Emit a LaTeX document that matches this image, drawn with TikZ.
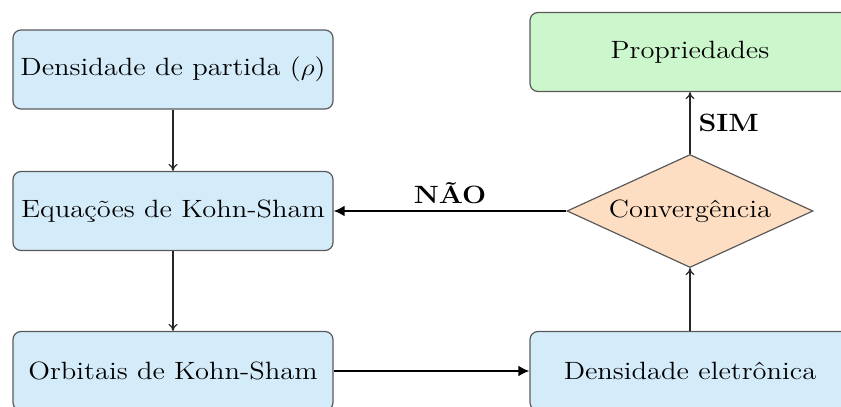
\documentclass[tikz,border=0pt]{standalone}
\usepackage{graphicx}
\usetikzlibrary{shapes.geometric,arrows.meta}
\definecolor{boxblue}{RGB}{212,236,250}
\definecolor{boxgreen}{RGB}{204,247,204}
\definecolor{boxpeach}{RGB}{253,222,194}
\definecolor{edgegray}{RGB}{90,90,90}
\newcommand\sx[1]{\scalebox{1.14}[1]{#1}}
\tikzset{
  procbox/.style={draw=edgegray, line width=0.6pt, rounded corners=4pt, fill=boxblue,
    minimum width=160pt, minimum height=39.5pt, inner sep=0pt,
    font=\fontsize{12.5}{14}\selectfont},
  decbox/.style={diamond, draw=edgegray, line width=0.6pt, fill=boxpeach,
    minimum width=123pt, minimum height=56.5pt, inner sep=0pt, aspect=2.18,
    font=\fontsize{12.5}{14}\selectfont},
  thinarrow/.style={draw=black!85, line width=0.6pt, -{To[length=3.5pt,width=4.5pt]}},
  thickarrow/.style={draw=black, line width=1.4pt, -{Latex[length=5.5pt,width=5.5pt]}},
  lbl/.style={font=\fontsize{12.5}{14}\selectfont\bfseries, inner sep=1pt}
}
\begin{document}
\begin{tikzpicture}[x=0.5pt,y=-0.5pt]
\useasboundingbox (0,0) rectangle (841,407);
\clip (0,0) rectangle (841,407);
\node[procbox] (b1) at (173,69.5) {\sx{Densidade de partida ($\rho$)}};
\node[procbox] (b2) at (173,211) {\sx{Equações de Kohn-Sham}};
\node[procbox] (b3) at (173,371) {\sx{Orbitais de Kohn-Sham}};
\node[procbox, fill=boxgreen] (p) at (690,52) {\sx{Propriedades}};
\node[decbox] (c) at (690,211) {\sx{Convergência}};
\node[procbox] (d) at (690,371) {\sx{Densidade eletrônica}};
\draw[thinarrow] (b1) -- (b2);
\draw[thinarrow] (b2) -- (b3);
\draw[thinarrow] (d) -- (c);
\draw[thinarrow] (c) -- node[lbl, right=3pt, pos=0.5] (sim) {\sx{SIM}} (p);
\draw[thickarrow] (c) -- node[lbl, above=2pt, pos=0.5] (nao) {\sx{NÃO}} (b2);
\draw[thickarrow] (b3) -- (d);
\end{tikzpicture}
\end{document}
